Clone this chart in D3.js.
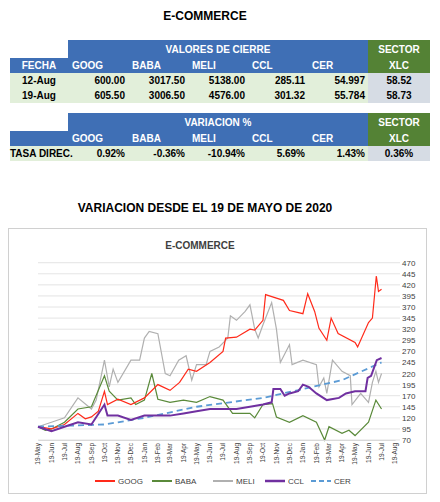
<!DOCTYPE html><html><head><meta charset="utf-8">
<script src="https://cdn.jsdelivr.net/npm/d3@7"></script>
<style>body{margin:0;background:#fff}text{font-family:"Liberation Sans",Arial,sans-serif}</style></head><body>
<svg id="c" width="440" height="502"></svg>
<script>
const tickers=["GOOG","BABA","MELI","CCL","CER"];
const row12=["12-Aug","600.00","3017.50","5138.00","285.11","54.997","58.52"];
const row19=["19-Aug","605.50","3006.50","4576.00","301.32","55.784","58.73"];
const rowVar=["TASA DIREC.","0.92%","-0.36%","-10.94%","5.69%","1.43%","0.36%"];
const yTicks=[70,95,120,145,170,195,220,245,270,295,320,345,370,395,420,445,470];
const goog=[["2020-05-19",100],["2020-06-19",95],["2020-07-19",105],["2020-08-19",130],["2020-09-05",118],["2020-09-19",122],["2020-10-05",135],["2020-10-19",180],["2020-10-26",150],["2020-11-19",162],["2020-12-19",150],["2021-01-19",165],["2021-02-19",195],["2021-03-19",182],["2021-04-10",200],["2021-04-30",230],["2021-05-19",225],["2021-06-19",245],["2021-07-19",270],["2021-07-25",300],["2021-08-19",302],["2021-09-19",320],["2021-09-30",318],["2021-10-19",340],["2021-10-25",398],["2021-11-19",390],["2021-12-05",385],["2021-12-19",362],["2022-01-19",355],["2022-01-30",400],["2022-02-15",360],["2022-02-25",322],["2022-03-15",295],["2022-03-25",345],["2022-04-10",310],["2022-05-19",290],["2022-05-25",280],["2022-06-19",335],["2022-06-28",345],["2022-07-07",440],["2022-07-12",405],["2022-07-19",410]];
const baba=[["2020-05-19",100],["2020-06-05",92],["2020-06-19",95],["2020-07-19",110],["2020-08-19",140],["2020-09-19",145],["2020-10-19",215],["2020-10-30",180],["2020-11-19",160],["2020-12-19",165],["2020-12-30",150],["2021-01-19",160],["2021-02-05",220],["2021-02-19",162],["2021-03-19",155],["2021-04-19",160],["2021-05-19",155],["2021-06-19",168],["2021-07-19",160],["2021-08-10",130],["2021-09-19",130],["2021-09-30",120],["2021-10-19",150],["2021-11-10",152],["2021-11-19",122],["2021-12-19",110],["2022-01-19",125],["2022-02-19",110],["2022-03-10",70],["2022-03-20",100],["2022-04-19",85],["2022-05-05",92],["2022-05-19",80],["2022-06-19",110],["2022-07-06",160],["2022-07-19",140]];
const meli=[["2020-05-19",100],["2020-06-19",110],["2020-07-19",120],["2020-08-19",165],["2020-09-19",140],["2020-09-30",160],["2020-10-19",250],["2020-10-30",190],["2020-11-08",230],["2020-11-19",200],["2020-12-19",250],["2021-01-08",250],["2021-01-19",300],["2021-01-30",315],["2021-02-19",310],["2021-03-08",220],["2021-03-19",215],["2021-04-08",250],["2021-04-25",260],["2021-05-08",205],["2021-05-19",240],["2021-06-10",240],["2021-06-19",270],["2021-07-10",280],["2021-07-30",300],["2021-08-05",350],["2021-08-19",340],["2021-09-08",360],["2021-09-19",375],["2021-09-30",320],["2021-10-08",300],["2021-10-19",330],["2021-11-08",380],["2021-11-19",320],["2021-11-28",245],["2021-12-19",285],["2021-12-25",240],["2022-01-19",250],["2022-02-19",240],["2022-02-25",190],["2022-03-08",210],["2022-03-15",175],["2022-03-28",250],["2022-04-19",225],["2022-05-08",215],["2022-05-12",150],["2022-06-01",175],["2022-06-19",155],["2022-06-28",200],["2022-07-06",225],["2022-07-12",200],["2022-07-19",220]];
const ccl=[["2020-05-19",100],["2020-06-19",90],["2020-07-19",100],["2020-08-19",110],["2020-09-19",105],["2020-10-19",150],["2020-10-26",125],["2020-11-19",125],["2020-12-19",115],["2021-01-19",125],["2021-02-19",125],["2021-03-19",125],["2021-04-19",130],["2021-05-19",135],["2021-06-19",140],["2021-07-19",140],["2021-08-19",140],["2021-09-19",145],["2021-10-19",150],["2021-11-08",155],["2021-11-12",185],["2021-11-28",185],["2021-12-08",170],["2021-12-19",175],["2022-01-08",180],["2022-01-19",195],["2022-02-01",190],["2022-02-19",175],["2022-03-15",160],["2022-04-12",165],["2022-04-28",175],["2022-05-19",180],["2022-06-12",180],["2022-06-17",210],["2022-06-25",215],["2022-07-08",250],["2022-07-19",255]];
const cer=[["2020-05-19",100],["2020-10-19",105],["2021-01-19",120],["2021-05-19",145],["2021-10-19",165],["2022-01-19",185],["2022-04-19",205],["2022-07-19",245]];
const seriesData=[goog,baba,meli,ccl,cer];
const colors=["#ff2a1a","#5a8a3a","#b0b0b0","#7030a0","#5b9bd5"];

const svg=d3.select("#c");
const BLUE="#3f6fb5",GREEN="#548235",LG="#e2efda",GR="#d6dce4";
svg.append("text").attr("x",205).attr("y",20).attr("text-anchor","middle").attr("font-weight","bold").attr("font-size",12).text("E-COMMERCE");
const xs=[10,68,128,188,248,308,368,430];
function cell(x0,x1,y0,y1,fill){svg.append("rect").attr("x",x0).attr("y",y0).attr("width",x1-x0).attr("height",y1-y0).attr("fill",fill);}
function txt(x,y,t,anchor,color){svg.append("text").attr("x",x).attr("y",y).attr("text-anchor",anchor).attr("font-weight","bold").attr("font-size",10).attr("fill",color).text(t);}
function table(y0,title,first,rows){
  cell(68,368,y0,y0+18,BLUE);cell(368,430,y0,y0+18,GREEN);
  cell(10,368,y0+18,y0+33,BLUE);cell(368,430,y0+18,y0+33,GREEN);
  txt(218,y0+13,title,"middle","#fff");txt(399,y0+13,"SECTOR","middle","#fff");
  txt(39,y0+29,first,"middle","#fff");
  tickers.forEach((t,i)=>txt(xs[i+1]+4,y0+29,t,"start","#fff"));
  txt(399,y0+29,"XLC","middle","#fff");
  rows.forEach((r,k)=>{const ya=y0+33+k*15;cell(10,368,ya,ya+15,LG);cell(368,430,ya,ya+15,GR);
    r.forEach((v,i)=>{if(i==0)txt(first?39:10,ya+11,v,first?"middle":"start","#000");else if(i==6)txt(399,ya+11,v,"middle","#000");else txt(xs[i+1]-3,ya+11,v,"end","#000");});});
}
table(40,"VALORES DE CIERRE","FECHA",[row12,row19]);
table(113,"VARIACION %","",[rowVar]);
svg.append("text").attr("x",205).attr("y",212).attr("text-anchor","middle").attr("font-weight","bold").attr("font-size",12).text("VARIACION DESDE EL 19 DE MAYO DE 2020");

svg.append("rect").attr("x",8.5).attr("y",228.5).attr("width",418).attr("height",265).attr("fill","#fff").attr("stroke","#d0d0d0");
svg.append("text").attr("x",200).attr("y",249).attr("text-anchor","middle").attr("font-weight","bold").attr("font-size",10).attr("fill","#404040").text("E-COMMERCE");
const pd=d3.timeParse("%Y-%m-%d");
const x=d3.scaleTime().domain([pd("2020-05-19"),pd("2022-08-19")]).range([38,395]);
const y=d3.scaleLinear().domain([70,470]).range([440,262.7]);
const g=svg.append("g");
g.selectAll("line.g").data(yTicks).join("line").attr("x1",38).attr("x2",400).attr("y1",d=>y(d)).attr("y2",d=>y(d)).attr("stroke","#d9d9d9").attr("stroke-width",0.7);
svg.append("g").attr("transform","translate(400,0)").call(d3.axisRight(y).tickValues(yTicks).tickSize(0).tickPadding(2)).call(a=>a.select(".domain").remove()).selectAll("text").attr("font-size",8).attr("fill","#404040");
const months=d3.range(28).map(i=>d3.timeMonth.offset(pd("2020-05-19"),i));
const fmt=d3.timeFormat("19-%b");
const xa=svg.append("g").attr("transform","translate(0,440)").call(d3.axisBottom(x).tickValues(months).tickFormat(fmt).tickSize(0));
xa.select(".domain").attr("stroke","#d9d9d9");
xa.selectAll("text").attr("font-size",6.5).attr("fill","#404040").attr("text-anchor","end").attr("transform","rotate(-90)").attr("dx","-3").attr("dy","0.3em").attr("x",0).attr("y",0);
const line=d3.line().x(d=>x(pd(d[0]))).y(d=>y(d[1]));
[2,1,0,4,3].forEach(i=>{g.append("path").datum(seriesData[i]).attr("d",line).attr("fill","none").attr("stroke",colors[i]).attr("stroke-width",i==3?2:i==4?1.8:1.2).attr("stroke-dasharray",i==4?"6,4":null);});
const lx=[95,152,213,265,311];
tickers.forEach((t,i)=>{svg.append("line").attr("x1",lx[i]).attr("x2",lx[i]+20).attr("y1",481).attr("y2",481).attr("stroke",colors[i]).attr("stroke-width",i==3?2.5:2).attr("stroke-dasharray",i==4?"5,3":null);
  svg.append("text").attr("x",lx[i]+23).attr("y",484).attr("font-size",8).attr("fill","#404040").text(t);});
</script></body></html>
